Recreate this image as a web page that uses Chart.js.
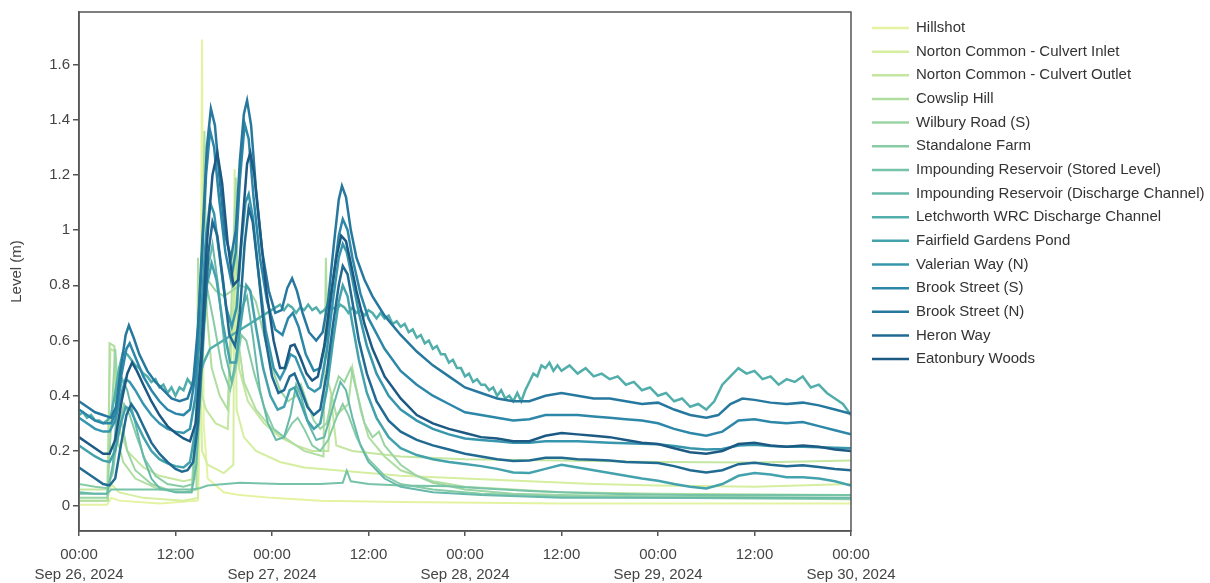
<!DOCTYPE html>
<html>
<head>
<meta charset="utf-8">
<title>Level (m)</title>
<script src="https://cdn.jsdelivr.net/npm/chart.js@4.4.1/dist/chart.umd.min.js"></script>
<style>
  body { margin: 0; background: #fff; }
  #wrap { width: 1210px; height: 583px; }
</style>
</head>
<body>
<div id="wrap"><canvas id="levels" width="1210" height="583"></canvas></div>
<script>
// hours since 26 Sep 2024 00:00, level in metres
const hillshot = [[0,0.005],[3.5,0.005],[4,0.03],[5,0.02],[10,0.01],[14.8,0.02],[15.1,0.4],[15.3,1.69],[15.5,0.3],[16,0.1],[18,0.05],[20,0.04],[24,0.03],[30,0.02],[40,0.015],[60,0.01],[96,0.01]];
const nortonInlet = [[0,0.02],[3.5,0.02],[4,0.08],[5,0.05],[8,0.03],[13,0.02],[14.8,0.03],[15,0.6],[15.3,0.2],[16,0.15],[18,0.12],[19.2,0.15],[19.35,1.22],[19.6,0.35],[20.5,0.25],[22,0.2],[25,0.16],[28,0.14],[32,0.13],[36,0.12],[40,0.11],[48,0.1],[56,0.09],[64,0.08],[72,0.075],[84,0.07],[96,0.08]];
const nortonOutlet = [[0,0.06],[3.5,0.06],[3.9,0.57],[4.5,0.56],[4.8,0.3],[6,0.2],[8,0.14],[10,0.11],[13,0.09],[14.6,0.1],[14.9,0.75],[15.3,0.4],[15.8,0.35],[17,0.3],[18.5,0.28],[19.6,1.0],[19.9,0.5],[21,0.38],[23,0.3],[25,0.25],[27,0.22],[29,0.2],[31,0.2],[31.3,0.4],[32,0.22],[34,0.2],[37,0.19],[40,0.18],[48,0.17],[60,0.165],[72,0.16],[84,0.158],[96,0.165]];
const cowslipHill = [[0,0.02],[3.6,0.02],[3.8,0.59],[4.4,0.58],[4.7,0.25],[5.5,0.16],[7,0.1],[10,0.06],[13,0.05],[14.6,0.06],[14.8,0.9],[15.2,0.5],[15.6,1.36],[15.9,0.7],[16.5,0.5],[17.5,0.4],[18.5,0.35],[19.5,1.19],[19.8,0.6],[20.5,0.45],[22,0.35],[24,0.28],[26,0.24],[28,0.2],[30.4,0.18],[30.7,0.9],[31,0.45],[32,0.33],[33.5,0.37],[34,0.5],[35,0.35],[36,0.25],[38,0.18],[40,0.13],[44,0.09],[48,0.07],[60,0.05],[72,0.045],[96,0.04]];
const wilburyRoad = [[0,0.03],[3.5,0.03],[4,0.3],[4.5,0.57],[5,0.35],[6,0.2],[7,0.13],[9,0.08],[12,0.05],[14,0.05],[14.5,0.3],[15,0.8],[15.5,0.93],[16,0.82],[17,0.78],[18,0.76],[19,0.78],[20,0.8],[21,0.79],[22,0.74],[23,0.62],[24,0.5],[25,0.42],[26,0.38],[27,0.4],[27.6,0.44],[28.3,0.38],[29.2,0.31],[30,0.28],[30.8,0.3],[31.5,0.4],[32.3,0.47],[33,0.45],[33.8,0.5],[34.5,0.42],[35.5,0.3],[36.5,0.25],[37.3,0.27],[38,0.22],[40,0.15],[42,0.11],[44,0.085],[48,0.06],[54,0.045],[60,0.04],[72,0.035],[96,0.03]];
const standaloneFarm = [[0,0.08],[2,0.07],[3.5,0.065],[4.2,0.12],[5,0.3],[5.6,0.37],[6.3,0.33],[7.2,0.25],[8.2,0.17],[9.5,0.11],[11,0.08],[13,0.07],[14.2,0.08],[14.8,0.35],[15.4,0.7],[16,0.78],[16.8,0.66],[17.8,0.5],[18.8,0.42],[19.5,0.5],[20.2,0.62],[20.8,0.6],[21.8,0.48],[23,0.36],[24.2,0.28],[25.5,0.25],[26.5,0.3],[27.2,0.32],[28,0.28],[29,0.22],[30,0.2],[31,0.24],[32,0.32],[32.8,0.37],[33.5,0.33],[34.5,0.25],[36,0.17],[38,0.11],[40,0.08],[44,0.06],[50,0.045],[60,0.035],[72,0.03],[96,0.025]];
const impoundingStored = [[0,0.045],[3.5,0.045],[4,0.06],[8,0.06],[14,0.06],[15,0.065],[16,0.075],[20,0.085],[25,0.08],[30,0.08],[32.8,0.085],[33.3,0.128],[33.8,0.09],[36,0.08],[40,0.075],[46,0.072],[50,0.065],[56,0.055],[60,0.05],[66,0.045],[70,0.042],[76,0.04],[96,0.04]];
const impoundingDischarge = [[0,0.05],[2,0.045],[3.5,0.045],[4.2,0.15],[4.8,0.38],[5.4,0.46],[6,0.42],[7,0.3],[8,0.18],[9,0.1],[10,0.065],[12,0.05],[14,0.05],[14.6,0.15],[15.3,0.5],[16,0.85],[16.6,0.95],[17.3,0.8],[18.2,0.55],[19,0.45],[19.6,0.55],[20.3,0.72],[20.9,0.76],[21.6,0.62],[22.5,0.42],[23.5,0.3],[24.5,0.24],[25.5,0.25],[26.3,0.33],[27,0.44],[27.6,0.4],[28.5,0.3],[29.5,0.24],[30.5,0.25],[31.5,0.35],[32.5,0.45],[33.2,0.42],[34,0.32],[35,0.22],[36,0.16],[38,0.1],[40,0.07],[44,0.05],[50,0.04],[60,0.03],[96,0.03]];
const letchworthWrc = [[0,0.33],[0.5,0.34],[1,0.32],[1.5,0.33],[2,0.31],[2.5,0.31],[3,0.3],[3.5,0.31],[4,0.33],[4.5,0.41],[5,0.5],[5.5,0.56],[6,0.55],[6.5,0.53],[7,0.51],[7.5,0.5],[8,0.48],[8.5,0.47],[9,0.45],[9.5,0.46],[10,0.43],[10.5,0.44],[11,0.41],[11.5,0.43],[12,0.4],[12.5,0.43],[13,0.42],[13.5,0.46],[14,0.44],[14.5,0.48],[15,0.47],[15.5,0.52],[16.3,0.57],
  [25,0.73],[25.5,0.71],[26,0.73],[26.5,0.72],[27,0.7],[27.5,0.72],[28,0.71],[28.5,0.73],[29,0.71],[29.5,0.72],[30,0.7],[30.5,0.71],[31,0.73],[31.5,0.72],[32,0.71],[32.5,0.73],[33,0.72],[33.5,0.7],[34,0.72],[34.5,0.7],[35,0.71],[35.5,0.69],[36,0.71],[36.5,0.7],[37,0.68],[37.5,0.7],[38,0.68],[38.5,0.69],[39,0.66],[39.5,0.67],[40,0.65],[40.5,0.66],[41,0.63],[41.5,0.64],[42,0.61],[42.5,0.62],[43,0.59],[43.5,0.6],[44,0.57],[44.5,0.58],[45,0.55],[45.5,0.55],[46,0.52],[46.5,0.53],[47,0.5],[47.5,0.5],[48,0.47],[48.5,0.48],[49,0.45],[49.5,0.46],[50,0.44],[50.5,0.44],[51,0.42],[51.5,0.43],[52,0.4],[52.5,0.42],[53,0.39],[53.5,0.4],[54,0.38],[54.5,0.41],[55,0.38],[55.5,0.42],[56,0.45],[56.5,0.48],[57,0.47],[57.5,0.51],[58,0.5],[58.5,0.52],[59,0.49],[59.5,0.51],
  [60,0.49],[61,0.51],[62,0.48],[63,0.5],[64,0.47],[65,0.48],[66,0.46],[67,0.47],[68,0.44],[69,0.45],[70,0.42],[71,0.43],[72,0.4],[73,0.41],[74,0.38],[75,0.39],[76,0.36],[77,0.37],[78,0.35],[79,0.38],[80,0.44],[81,0.47],[82,0.5],[83,0.48],[84,0.49],[85,0.46],[86,0.47],[87,0.44],[88,0.46],[89,0.45],[90,0.47],[91,0.43],[92,0.44],[93,0.41],[94,0.39],[95,0.37],[96,0.33]];
const fairfieldPond = [[0,0.22],[1,0.2],[2,0.18],[3,0.165],[3.8,0.16],[4.5,0.2],[5.2,0.3],[5.8,0.36],[6.4,0.35],[7,0.31],[8,0.25],[9,0.2],[10,0.17],[11,0.155],[12,0.145],[13,0.14],[13.8,0.16],[14.5,0.28],[15.2,0.55],[15.9,0.8],[16.5,0.88],[17.1,0.82],[17.9,0.66],[18.8,0.52],[19.5,0.52],[20.2,0.68],[20.8,0.8],[21.3,0.78],[22,0.65],[22.9,0.5],[23.8,0.4],[24.7,0.35],[25.5,0.36],[26.2,0.42],[26.8,0.43],[27.5,0.38],[28.4,0.31],[29.2,0.28],[30,0.3],[30.8,0.42],[31.6,0.6],[32.3,0.74],[32.8,0.8],[33.4,0.76],[34,0.66],[34.8,0.53],[35.8,0.41],[37,0.32],[38.5,0.25],[40,0.21],[42,0.185],[44,0.17],[46,0.16],[48,0.153],[50,0.145],[52,0.135],[54,0.122],[56,0.12],[58,0.135],[60,0.15],[62,0.14],[64,0.13],[66,0.12],[68,0.11],[70,0.1],[72,0.092],[74,0.08],[76,0.07],[78,0.064],[80,0.08],[82,0.11],[84,0.12],[86,0.115],[88,0.105],[90,0.105],[92,0.1],[94,0.09],[96,0.075]];
const valerianWay = [[0,0.32],[1,0.3],[2,0.28],[3,0.27],[3.8,0.27],[4.5,0.31],[5.2,0.4],[5.8,0.46],[6.3,0.45],[7,0.42],[8,0.37],[9,0.33],[10,0.3],[11,0.28],[12,0.27],[13,0.265],[13.8,0.28],[14.5,0.4],[15.2,0.7],[15.8,0.98],[16.3,1.1],[16.8,1.06],[17.5,0.9],[18.3,0.72],[19,0.65],[19.6,0.72],[20.2,0.95],[20.7,1.1],[21.1,1.13],[21.6,1.05],[22.3,0.85],[23.2,0.64],[24.2,0.5],[25,0.46],[25.7,0.5],[26.3,0.55],[26.9,0.54],[27.6,0.49],[28.5,0.43],[29.3,0.415],[30,0.43],[30.8,0.56],[31.6,0.75],[32.3,0.9],[32.8,0.95],[33.3,0.92],[34,0.82],[34.8,0.7],[35.8,0.58],[37,0.48],[38.5,0.4],[40,0.35],[42,0.31],[44,0.28],[46,0.26],[48,0.245],[50,0.24],[52,0.235],[54,0.23],[56,0.23],[58,0.235],[60,0.235],[62,0.235],[64,0.232],[66,0.23],[68,0.228],[70,0.226],[72,0.224],[74,0.218],[76,0.21],[78,0.205],[80,0.207],[82,0.22],[84,0.222],[86,0.218],[88,0.215],[90,0.215],[92,0.213],[94,0.212],[96,0.21]];
const brookStreetS = [[0,0.35],[1,0.33],[2,0.31],[3,0.3],[4,0.3],[4.6,0.34],[5.3,0.48],[5.9,0.57],[6.3,0.59],[7,0.54],[8,0.47],[9,0.42],[10,0.38],[11,0.35],[12,0.335],[13,0.33],[13.8,0.35],[14.5,0.48],[15.2,0.85],[15.8,1.2],[16.3,1.36],[16.8,1.3],[17.4,1.12],[18.2,0.92],[18.9,0.82],[19.5,0.92],[20,1.18],[20.6,1.385],[21.1,1.33],[21.7,1.12],[22.5,0.9],[23.4,0.74],[24.4,0.64],[25.3,0.62],[26,0.68],[26.6,0.7],[27.3,0.65],[28.2,0.55],[29.2,0.49],[30,0.5],[30.8,0.62],[31.6,0.82],[32.3,0.98],[32.8,1.04],[33.4,1],[34,0.9],[35,0.77],[36,0.68],[38,0.57],[40,0.49],[42,0.44],[44,0.4],[46,0.37],[48,0.34],[50,0.33],[52,0.32],[54,0.31],[56,0.315],[58,0.33],[60,0.33],[62,0.33],[64,0.325],[66,0.32],[68,0.315],[70,0.31],[72,0.3],[74,0.28],[76,0.265],[78,0.255],[80,0.27],[82,0.31],[84,0.315],[86,0.305],[88,0.3],[90,0.305],[92,0.29],[94,0.275],[96,0.26]];
const brookStreetN = [[0,0.38],[1,0.36],[2,0.34],[3,0.33],[4,0.32],[4.6,0.36],[5.2,0.5],[5.8,0.62],[6.2,0.655],[6.8,0.61],[7.5,0.55],[8.5,0.49],[9.5,0.45],[10.5,0.42],[11.5,0.39],[12.5,0.38],[13.5,0.39],[14.2,0.45],[14.8,0.65],[15.4,1],[15.9,1.3],[16.4,1.44],[16.9,1.38],[17.5,1.18],[18.2,0.98],[18.9,0.9],[19.5,1],[20,1.25],[20.5,1.42],[20.9,1.47],[21.4,1.38],[22,1.15],[22.8,0.92],[23.6,0.78],[24.4,0.7],[25.2,0.71],[25.9,0.79],[26.5,0.825],[27.1,0.78],[27.8,0.7],[28.6,0.63],[29.5,0.6],[30.3,0.63],[31,0.75],[31.7,0.95],[32.3,1.11],[32.7,1.16],[33.2,1.12],[33.8,1],[34.5,0.9],[35.5,0.82],[36.5,0.76],[38,0.69],[40,0.62],[42,0.56],[44,0.51],[46,0.47],[48,0.43],[50,0.41],[52,0.39],[54,0.38],[56,0.38],[58,0.4],[60,0.41],[62,0.4],[64,0.39],[66,0.39],[68,0.38],[70,0.37],[72,0.375],[74,0.35],[76,0.33],[78,0.32],[79.5,0.33],[81,0.37],[82.5,0.39],[84,0.385],[86,0.375],[88,0.37],[90,0.375],[92,0.365],[94,0.35],[96,0.335]];
const heronWay = [[0,0.14],[1,0.12],[2,0.1],[3,0.08],[3.8,0.075],[4.5,0.1],[5.2,0.22],[5.9,0.33],[6.5,0.37],[7.2,0.34],[8,0.29],[9,0.23],[10,0.19],[11,0.16],[12,0.135],[12.8,0.125],[13.5,0.13],[14.2,0.16],[14.8,0.3],[15.5,0.65],[16.1,0.92],[16.6,1.03],[17.2,0.98],[17.9,0.82],[18.7,0.62],[19.4,0.58],[20,0.7],[20.6,0.95],[21.1,1.08],[21.6,1.03],[22.3,0.85],[23.1,0.62],[24,0.47],[24.8,0.41],[25.5,0.42],[26.2,0.47],[26.8,0.48],[27.5,0.43],[28.4,0.36],[29.2,0.33],[30,0.35],[30.8,0.48],[31.6,0.66],[32.3,0.8],[32.8,0.87],[33.4,0.84],[34,0.74],[34.8,0.6],[35.8,0.48],[37,0.38],[38.5,0.31],[40,0.27],[42,0.24],[44,0.22],[46,0.205],[48,0.19],[50,0.18],[52,0.17],[54,0.164],[56,0.165],[58,0.175],[60,0.175],[62,0.17],[64,0.168],[66,0.165],[68,0.16],[70,0.158],[72,0.156],[74,0.145],[76,0.13],[78,0.122],[80,0.13],[82,0.152],[84,0.157],[86,0.15],[88,0.145],[90,0.148],[92,0.142],[94,0.135],[96,0.13]];
const eatonburyWoods = [[0,0.25],[1,0.23],[2,0.21],[3,0.19],[3.8,0.19],[4.5,0.24],[5.3,0.38],[6,0.48],[6.6,0.52],[7.2,0.49],[8,0.44],[9,0.38],[10,0.33],[11,0.29],[12,0.265],[13,0.245],[13.8,0.235],[14.5,0.3],[15.2,0.55],[15.9,0.95],[16.6,1.2],[17.2,1.28],[17.8,1.17],[18.5,0.95],[19.2,0.8],[19.8,0.82],[20.4,1.05],[20.9,1.24],[21.3,1.28],[21.8,1.2],[22.5,1],[23.3,0.78],[24.2,0.6],[25,0.5],[25.6,0.5],[26.3,0.58],[26.8,0.585],[27.5,0.54],[28.3,0.48],[29,0.455],[29.7,0.47],[30.5,0.58],[31.3,0.76],[32,0.9],[32.6,0.98],[33.2,0.96],[33.8,0.88],[34.5,0.78],[35.5,0.66],[36.5,0.57],[38,0.47],[40,0.39],[42,0.33],[44,0.3],[46,0.28],[48,0.265],[50,0.25],[52,0.245],[54,0.235],[56,0.235],[58,0.255],[60,0.265],[62,0.26],[64,0.255],[66,0.25],[68,0.24],[70,0.23],[72,0.225],[74,0.21],[76,0.195],[78,0.19],[80,0.2],[82,0.225],[84,0.23],[86,0.22],[88,0.215],[90,0.22],[92,0.215],[94,0.205],[96,0.2]];

const siteNames = ["Hillshot", "Norton Common - Culvert Inlet", "Norton Common - Culvert Outlet", "Cowslip Hill", "Wilbury Road (S)", "Standalone Farm", "Impounding Reservoir (Stored Level)", "Impounding Reservoir (Discharge Channel)", "Letchworth WRC Discharge Channel", "Fairfield Gardens Pond", "Valerian Way (N)", "Brook Street (S)", "Brook Street (N)", "Heron Way", "Eatonbury Woods"];
const siteSeries = [hillshot, nortonInlet, nortonOutlet, cowslipHill, wilburyRoad, standaloneFarm, impoundingStored, impoundingDischarge, letchworthWrc, fairfieldPond, valerianWay, brookStreetS, brookStreetN, heronWay, eatonburyWoods];
const siteColors = ["#e4f3a1", "#d5eea0", "#c4e6a0", "#b0dea1", "#9bd5a3", "#88cca6", "#76c3a8", "#66b9aa", "#52aeab", "#44a2ad", "#3796ad", "#2d87a8", "#27789e", "#216a92", "#1c5a84"];

const xTickHours = [0, 12, 24, 36, 48, 60, 72, 84, 96];
const xTickLabels = [["00:00", "Sep 26, 2024"], "12:00", ["00:00", "Sep 27, 2024"], "12:00", ["00:00", "Sep 28, 2024"], "12:00", ["00:00", "Sep 29, 2024"], "12:00", ["00:00", "Sep 30, 2024"]];
const yTickValues = [0, 0.2, 0.4, 0.6, 0.8, 1, 1.2, 1.4, 1.6];

const axisGrey = "#555";
const textGrey = "#444";

// box round the plot area (top and right edges too)
const frame = {
  id: "frame",
  afterDatasetsDraw(chart) {
    const a = chart.chartArea, ctx = chart.ctx;
    ctx.save();
    ctx.strokeStyle = axisGrey;
    ctx.lineWidth = 1.5;
    ctx.strokeRect(a.left, a.top, a.right - a.left, a.bottom - a.top);
    ctx.restore();
  }
};

// legend drawn by hand so it sits where the original one is
const sideLegend = {
  id: "sideLegend",
  afterDraw(chart) {
    const ctx = chart.ctx;
    ctx.save();
    ctx.font = '15px "Liberation Sans", Arial, sans-serif';
    ctx.textBaseline = "middle";
    siteNames.forEach((name, i) => {
      const y = 28 + i * 23.65;
      ctx.strokeStyle = siteColors[i];
      ctx.lineWidth = 2.5;
      ctx.beginPath();
      ctx.moveTo(872, y);
      ctx.lineTo(909, y);
      ctx.stroke();
      ctx.fillStyle = "#333";
      ctx.fillText(name, 916, y);
    });
    ctx.restore();
  }
};

// later sites are drawn over earlier ones, as in the original
const datasets = siteSeries.map((series, i) => ({
  label: siteNames[i],
  data: series.map(p => ({x: p[0], y: p[1]})),
  borderColor: siteColors[i],
  backgroundColor: siteColors[i],
  borderWidth: i >= 8 ? 2.5 : 2,
  order: siteSeries.length - i,
  pointRadius: 0,
  tension: 0,
  fill: false
}));

new Chart(document.getElementById("levels"), {
  type: "line",
  data: {datasets: datasets},
  options: {
    responsive: false,
    animation: false,
    devicePixelRatio: 1,
    layout: {padding: {top: 8, right: 359, left: 0, bottom: 0}},
    plugins: {legend: {display: false}, tooltip: {enabled: false}},
    scales: {
      x: {
        type: "linear",
        min: 0,
        max: 96,
        afterBuildTicks: s => { s.ticks = xTickHours.map(v => ({value: v})); },
        afterFit: s => { s.height = 52; },
        ticks: {
          autoSkip: false,
          maxRotation: 0,
          padding: 9,
          color: textGrey,
          font: {family: '"Liberation Sans", Arial, sans-serif', size: 15, lineHeight: 1.33},
          callback: v => xTickLabels[xTickHours.indexOf(v)]
        },
        grid: {drawOnChartArea: false, drawTicks: true, tickLength: 5, color: axisGrey, lineWidth: 1.5},
        border: {display: true, color: axisGrey, width: 1.5}
      },
      y: {
        min: -0.09,
        max: 1.79,
        afterBuildTicks: s => { s.ticks = yTickValues.map(v => ({value: v})); },
        afterFit: s => { s.width = 79; },
        ticks: {
          padding: 3,
          color: textGrey,
          font: {family: '"Liberation Sans", Arial, sans-serif', size: 15},
          callback: v => String(+v.toFixed(1))
        },
        title: {
          display: true,
          text: "Level (m)",
          color: textGrey,
          padding: {top: 8, bottom: 0},
          font: {family: '"Liberation Sans", Arial, sans-serif', size: 15}
        },
        grid: {drawOnChartArea: false, drawTicks: true, tickLength: 6, color: axisGrey, lineWidth: 1.5},
        border: {display: true, color: axisGrey, width: 1.5}
      }
    }
  },
  plugins: [frame, sideLegend]
});
</script>
</body>
</html>
